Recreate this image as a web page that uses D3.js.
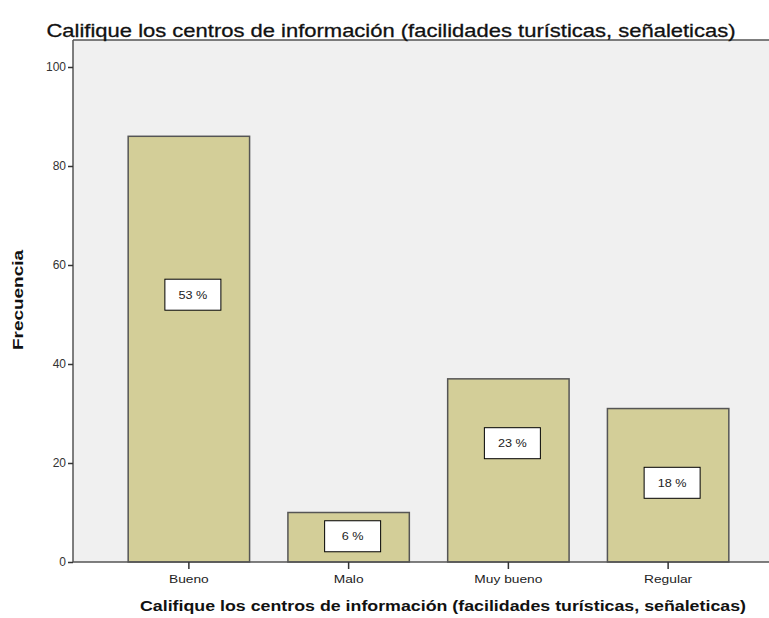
<!DOCTYPE html>
<html>
<head>
<meta charset="utf-8">
<script src="https://cdn.jsdelivr.net/npm/d3@7"></script>
<style>
  body { margin: 0; background: #fff; }
  text { font-family: "Liberation Sans", Arial, sans-serif; }
</style>
</head>
<body>
<div id="chart"></div>
<script>
// datos del grafico
const categorias = ['Bueno', 'Malo', 'Muy bueno', 'Regular'];
const frecuencias = [86, 10, 37, 31];
const porcentajes = ['53 %', '6 %', '23 %', '18 %'];
// altura (en frecuencia) donde SPSS puso cada etiqueta
const etiquetaEn = [54, 5.2, 24, 16];
const ticksY = [0, 20, 40, 60, 80, 100];
const titulo = 'Califique los centros de información (facilidades turísticas, señaleticas)';

const width = 769;
const height = 618;
const plotLeft = 73;
const plotTop = 40;
const plotBottom = 562;

let svg = d3.select('#chart')
    .append('svg')
    .attr('width', width)
    .attr('height', height);

// el texto de la imagen original sale estirado a lo ancho
function estirar(sel, factor) {
    sel.each(function () {
        const w = this.getComputedTextLength();
        d3.select(this).attr('textLength', w * factor).attr('lengthAdjust', 'spacingAndGlyphs');
    });
}

let x = d3.scaleBand()
    .domain(categorias)
    .range([109, 748])
    .paddingInner(0.24)
    .paddingOuter(0.12);

let y = d3.scaleLinear()
    .domain([0, 100])
    .range([plotBottom, 67]);

// fondo del area
svg.append('rect')
    .attr('x', plotLeft)
    .attr('y', plotTop)
    .attr('width', width - plotLeft + 10)
    .attr('height', plotBottom - plotTop)
    .attr('fill', '#f0f0f0');

svg.append('line')
    .attr('x1', plotLeft).attr('x2', width)
    .attr('y1', plotTop).attr('y2', plotTop)
    .attr('stroke', '#555').attr('stroke-width', 1.5);

// barras
svg.selectAll('.barra')
    .data(categorias)
    .enter()
    .append('rect')
    .attr('class', 'barra')
    .attr('x', d => x(d))
    .attr('y', (d, i) => y(frecuencias[i]))
    .attr('width', x.bandwidth())
    .attr('height', (d, i) => y(0) - y(frecuencias[i]))
    .attr('fill', '#d3ce98')
    .attr('stroke', '#555')
    .attr('stroke-width', 1.5);

// etiquetas de porcentaje
const boxW = 56, boxH = 31;
let etiquetas = svg.selectAll('.etq')
    .data(categorias)
    .enter()
    .append('g')
    .attr('class', 'etq')
    .attr('transform', (d, i) => `translate(${x(d) + x.bandwidth() / 2 + 4},${y(etiquetaEn[i])})`);

etiquetas.append('rect')
    .attr('x', -boxW / 2).attr('y', -boxH / 2)
    .attr('width', boxW).attr('height', boxH)
    .attr('fill', '#fff')
    .attr('stroke', '#000')
    .attr('stroke-width', 1);

etiquetas.append('text')
    .attr('text-anchor', 'middle')
    .attr('dy', '0.35em')
    .attr('font-size', 11)
    .attr('fill', '#222')
    .text((d, i) => porcentajes[i])
    .call(estirar, 1.15);

// eje Y
let ejeY = svg.append('g')
    .attr('transform', `translate(${plotLeft},0)`)
    .call(d3.axisLeft(y).tickValues(ticksY).tickSize(5).tickPadding(2));
ejeY.select('.domain').attr('stroke', '#555').attr('stroke-width', 1.5)
    .attr('d', `M0,${plotTop}V${plotBottom}`);
ejeY.selectAll('.tick line').attr('stroke', '#333').attr('stroke-width', 1.5);
ejeY.selectAll('.tick text').attr('font-size', 12).attr('fill', '#333')
    .attr('font-family', '"Liberation Sans", Arial, sans-serif');

// eje X
let ejeX = svg.append('g')
    .attr('transform', `translate(0,${plotBottom})`)
    .call(d3.axisBottom(x).tickSize(7).tickPadding(6));
ejeX.select('.domain').attr('stroke', '#555').attr('stroke-width', 1.5)
    .attr('d', `M${plotLeft},0H${width}`);
ejeX.selectAll('.tick line').attr('stroke', '#333').attr('stroke-width', 1.5);
ejeX.selectAll('.tick text').attr('font-size', 11).attr('fill', '#222')
    .attr('font-family', '"Liberation Sans", Arial, sans-serif')
    .call(estirar, 1.25);

// titulos
svg.append('text')
    .attr('x', 391).attr('y', 37)
    .attr('text-anchor', 'middle')
    .attr('font-size', 19)
    .attr('font-weight', 'normal')
    .attr('fill', '#111')
    .attr('stroke', '#111')
    .attr('stroke-width', 0.3)
    .text(titulo)
    .attr('textLength', 689)
    .attr('lengthAdjust', 'spacingAndGlyphs');

svg.append('text')
    .attr('x', 443).attr('y', 611)
    .attr('text-anchor', 'middle')
    .attr('font-size', 15)
    .attr('font-weight', 'bold')
    .attr('fill', '#111')
    .text(titulo)
    .attr('textLength', 606)
    .attr('lengthAdjust', 'spacingAndGlyphs');

svg.append('text')
    .attr('transform', 'translate(23,300) rotate(-90)')
    .attr('text-anchor', 'middle')
    .attr('font-size', 15)
    .attr('font-weight', 'bold')
    .attr('fill', '#111')
    .text('Frecuencia')
    .attr('textLength', 100)
    .attr('lengthAdjust', 'spacingAndGlyphs');
</script>
</body>
</html>
